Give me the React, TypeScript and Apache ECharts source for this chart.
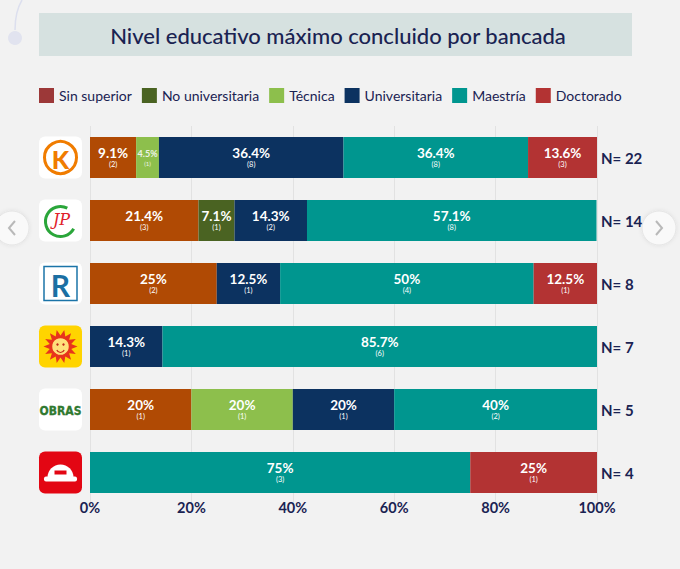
import React, { useEffect, useRef } from "react";
import * as echarts from "echarts";

const categories = [
  "Fuerza Popular",
  "Juntos por el Perú",
  "Renovación Popular",
  "Somos Perú",
  "Obras",
  "Bancada 6",
];
const nLabels = ["N= 22", "N= 14", "N= 8", "N= 7", "N= 5", "N= 4"];
const xTicks = [0, 20, 40, 60, 80, 100];

const seriesNames = ["Sin superior", "No universitaria", "Técnica", "Universitaria", "Maestría", "Doctorado"];
const barColors = ["#b04a04", "#4a6322", "#8dbf4c", "#0c3260", "#00968f", "#b33333"];
const legendColors = ["#9c3838", "#4a6322", "#8dbf4c", "#0c3260", "#00968f", "#b33333"];

const sinSuperior = [9.1, 21.4, 25, null, 20, null];
const sinSuperiorN = [2, 3, 2, null, 1, null];
const noUniversitaria = [null, 7.1, null, null, null, null];
const noUniversitariaN = [null, 1, null, null, null, null];
const tecnica = [4.5, null, null, null, 20, null];
const tecnicaN = [1, null, null, null, 1, null];
const universitaria = [36.4, 14.3, 12.5, 14.3, 20, null];
const universitariaN = [8, 2, 1, 1, 1, null];
const maestria = [36.4, 57.1, 50, 85.7, 40, 75];
const maestriaN = [8, 8, 4, 6, 2, 3];
const doctorado = [13.6, null, 12.5, null, null, 25];
const doctoradoN = [3, null, 1, null, null, 1];

const values = [sinSuperior, noUniversitaria, tecnica, universitaria, maestria, doctorado];
const counts = [sinSuperiorN, noUniversitariaN, tecnicaN, universitariaN, maestriaN, doctoradoN];

const NAVY = "#1a2352";
const FONT = "Lato, 'Noto Sans', sans-serif";

function logo(i: number, cy: number): any {
  const x = 39;
  const w = 43;
  const h = 42;
  const cx = x + w / 2;
  const boxFill = i === 3 ? "#ffd400" : i === 5 ? "#e30613" : "#ffffff";
  const children: any[] = [
    { type: "rect", shape: { x, y: cy - h / 2, width: w, height: h, r: 6 }, style: { fill: boxFill } },
  ];
  if (i === 0) {
    children.push(
      { type: "circle", shape: { cx, cy, r: 16 }, style: { fill: "none", stroke: "#f07c00", lineWidth: 3 } },
      {
        type: "text",
        x: cx,
        y: cy + 1,
        style: { text: "K", fill: "#f07c00", font: "900 25px " + FONT, align: "center", verticalAlign: "middle" },
      }
    );
  } else if (i === 1) {
    children.push(
      {
        type: "arc",
        shape: { cx, cy: cy + 1, r: 15, startAngle: 0.5, endAngle: 2 * Math.PI - 1.1, clockwise: true },
        style: { stroke: "#2aa63a", lineWidth: 3, fill: "none" },
      },
      {
        type: "text",
        x: cx + 1,
        y: cy - 1,
        style: { text: "JP", fill: "#e0202a", font: "italic 16px 'DejaVu Serif', serif", align: "center", verticalAlign: "middle" },
      }
    );
  } else if (i === 2) {
    children.push(
      { type: "rect", shape: { x: x + 5, y: cy - 17, width: 33, height: 34 }, style: { fill: "#fff", stroke: "#1b74a8", lineWidth: 1.5 } },
      {
        type: "text",
        x: cx,
        y: cy + 1,
        style: { text: "R", fill: "#1b6fa3", font: "bold 30px " + FONT, align: "center", verticalAlign: "middle" },
      }
    );
  } else if (i === 3) {
    const pts: number[][] = [];
    const n = 14;
    for (let k = 0; k < n * 2; k++) {
      const a = (Math.PI * k) / n;
      const r = k % 2 === 0 ? 17 : 11;
      pts.push([cx + r * Math.cos(a), cy + r * Math.sin(a)]);
    }
    children.push(
      { type: "polygon", shape: { points: pts }, style: { fill: "#e8341c" } },
      { type: "circle", shape: { cx, cy, r: 9 }, style: { fill: "#ffe07a", stroke: "#e8341c", lineWidth: 1.5 } },
      { type: "circle", shape: { cx: cx - 3, cy: cy - 2, r: 1.2 }, style: { fill: "#c0281a" } },
      { type: "circle", shape: { cx: cx + 3, cy: cy - 2, r: 1.2 }, style: { fill: "#c0281a" } },
      { type: "arc", shape: { cx, cy: cy + 2, r: 4, startAngle: 0.4, endAngle: Math.PI - 0.4 }, style: { stroke: "#c0281a", lineWidth: 1.2, fill: "none" } }
    );
  } else if (i === 4) {
    children.push({
      type: "text",
      x: cx,
      y: cy + 1,
      style: {
        text: "OBRAS",
        fill: "#2f7a2e",
        font: "bold 12px 'DejaVu Sans Condensed', 'Liberation Sans Narrow', sans-serif",
        align: "center",
        verticalAlign: "middle",
        stroke: "#1f5a1f",
        lineWidth: 0.3,
      },
    });
  } else if (i === 5) {
    children.push(
      { type: "sector", shape: { cx, cy: cy + 5, r0: 0, r: 13, startAngle: Math.PI, endAngle: 2 * Math.PI }, style: { fill: "#ffffff" } },
      { type: "rect", shape: { x: x + 5, y: cy + 4, width: 33, height: 5, r: 2 }, style: { fill: "#ffffff" } },
      { type: "rect", shape: { x: cx - 6, y: cy - 2, width: 12, height: 4 }, style: { fill: "#e30613" } }
    );
  }
  return { type: "group", children };
}

export default function App() {
  const ref = useRef<HTMLDivElement>(null);

  useEffect(() => {
    if (!ref.current) return;
    const chart = echarts.init(ref.current, null, { renderer: "svg" });

    const series = seriesNames.map((name, s) => ({
      name,
      type: "bar",
      stack: "total",
      barWidth: 41,
      itemStyle: { color: barColors[s] },
      label: {
        show: true,
        position: "inside",
        formatter: (p: any) => {
          const key = p.value < 6 ? "ps" : "p";
          const ck = p.value < 6 ? "cs" : "c";
          return `{${key}|${p.value}%}\n{${ck}|(${p.data.count})}`;
        },
        rich: {
          p: { fontSize: 13.5, fontWeight: "bold", color: "#ffffff", fontFamily: FONT, lineHeight: 14 },
          c: { fontSize: 7.5, color: "#ffffff", fontFamily: FONT, lineHeight: 9 },
          ps: { fontSize: 9, fontWeight: "bold", color: "#eef3e6", fontFamily: FONT, lineHeight: 11 },
          cs: { fontSize: 6, color: "#eef3e6", fontFamily: FONT, lineHeight: 8 },
        },
      },
      data: values[s].map((v, i) => (v == null ? null : { value: v, count: counts[s][i] })),
    }));

    const staticGraphics: any[] = [
      { type: "rect", shape: { x: 39, y: 13, width: 593, height: 43 }, style: { fill: "#d6e1e0" } },
      {
        type: "text",
        x: 338,
        y: 35,
        style: {
          text: "Nivel educativo máximo concluido por bancada",
          fill: NAVY,
          font: "500 22px " + FONT,
          align: "center",
          verticalAlign: "middle",
        },
      },
      {
        type: "bezierCurve",
        shape: { x1: 22, y1: 0, x2: 15, y2: 30, cpx1: 16, cpy1: 10, cpx2: 15, cpy2: 20 },
        style: { stroke: "#dcdfee", lineWidth: 1.5, fill: "none" },
      },
      { type: "circle", shape: { cx: 15, cy: 38, r: 7 }, style: { fill: "#e1e3ef" } },
      { type: "circle", shape: { cx: 12, cy: 228, r: 17 }, style: { fill: "#f9f9f9", stroke: "#e4e4e4", lineWidth: 1, shadowBlur: 4, shadowColor: "rgba(0,0,0,0.08)" } },
      { type: "polyline", shape: { points: [[15, 221], [9, 228], [15, 235]] }, style: { stroke: "#b9b9b9", lineWidth: 2, fill: "none" } },
      { type: "circle", shape: { cx: 659, cy: 228, r: 17 }, style: { fill: "#f9f9f9", stroke: "#e4e4e4", lineWidth: 1, shadowBlur: 4, shadowColor: "rgba(0,0,0,0.08)" } },
      { type: "polyline", shape: { points: [[656, 221], [662, 228], [656, 235]] }, style: { stroke: "#b9b9b9", lineWidth: 2, fill: "none" } },
    ];

    const option: any = {
      animation: false,
      backgroundColor: "#f2f2f2",
      textStyle: { fontFamily: FONT },
      legend: {
        top: 88,
        left: 39,
        padding: 0,
        itemWidth: 15,
        itemHeight: 15,
        itemGap: 10,
        icon: "rect",
        textStyle: { fontSize: 14, color: NAVY, fontFamily: FONT },
        data: seriesNames.map((name, s) => ({ name, itemStyle: { color: legendColors[s] } })),
      },
      grid: { left: 90, right: 83, top: 126, height: 378, containLabel: false },
      xAxis: {
        type: "value",
        min: 0,
        max: 100,
        interval: 20,
        axisLine: { show: false },
        axisTick: { show: false },
        splitLine: { show: true, lineStyle: { color: "#e2e2e2", width: 1 } },
        axisLabel: {
          margin: -4,
          formatter: (v: number) => (xTicks.includes(v) ? `${v}%` : ""),
          color: NAVY,
          fontSize: 14.5,
          fontWeight: "bold",
          fontFamily: FONT,
        },
      },
      yAxis: [
        {
          type: "category",
          inverse: true,
          data: categories,
          axisLine: { show: false },
          axisTick: { show: false },
          axisLabel: { show: false },
        },
        {
          type: "category",
          inverse: true,
          position: "right",
          data: nLabels,
          axisLine: { show: false },
          axisTick: { show: false },
          axisLabel: { margin: 4, color: NAVY, fontSize: 15, fontWeight: "bold", fontFamily: FONT },
        },
      ],
      graphic: staticGraphics,
      series,
    };

    chart.setOption(option);

    const logos = categories.map((c, i) => {
      const cy = chart.convertToPixel({ yAxisIndex: 0 }, c) as number;
      return logo(i, cy);
    });
    chart.setOption({ graphic: [...staticGraphics, ...logos] });

    return () => chart.dispose();
  }, []);

  return <div ref={ref} style={{ position: "fixed", left: 0, top: 0, width: 680, height: 569 }} />;
}
